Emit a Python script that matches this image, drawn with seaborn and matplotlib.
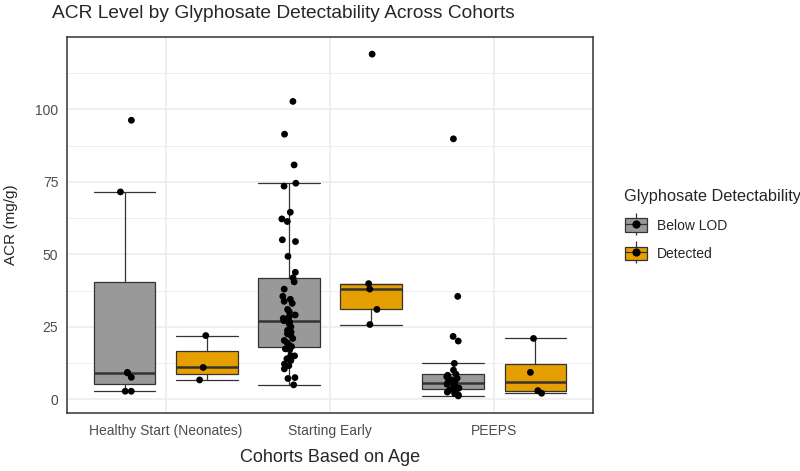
import numpy as np
import pandas as pd
import matplotlib.pyplot as plt
import seaborn as sns
from matplotlib.patches import Patch
from matplotlib.lines import Line2D
from matplotlib.legend_handler import HandlerTuple
from matplotlib.ticker import FixedLocator, MultipleLocator

# Data
cohorts = ['Healthy Start (Neonates)', 'Starting Early', 'PEEPS']
groups = ['Below LOD', 'Detected']
group_colors = ['#999999', '#E69F00']

hs_below = [2.8, 2.8, 7.6, 9.1, 9.3, 71.5, 96.2]
hs_detected = [6.7, 11.0, 22.0]
se_below = [102.7, 91.4, 80.8, 74.5, 73.5, 64.5, 62.2, 61.3, 55.0, 54.4, 49.3, 43.8,
            41.9, 40.5, 38.0, 35.5, 34.5, 33.8, 33.1, 31.0, 30.2, 29.1, 28.5, 27.9,
            27.1, 26.7, 26.0, 25.0, 23.8, 23.2, 22.6, 22.1, 21.0, 20.3, 19.5, 18.8,
            18.2, 17.4, 17.1, 15.1, 15.0, 14.0, 13.4, 12.2, 11.6, 10.5, 7.5, 7.2, 5.0]
se_detected = [25.8, 31.0, 38.0, 39.9, 119.0]
pe_below = [1.2, 1.5, 2.0, 2.5, 2.9, 3.2, 3.5, 3.9, 4.3, 4.8, 5.2, 5.5, 5.8,
            6.2, 6.7, 7.3, 7.8, 8.3, 8.7, 10.1, 12.4, 20.1, 21.7, 35.5, 89.8]
pe_detected = [2.1, 3.0, 9.3, 21.0]
y_ticks = [0, 25, 50, 75, 100]

rows = []
for cohort, grp, vals in [(cohorts[0], groups[0], hs_below), (cohorts[0], groups[1], hs_detected),
                          (cohorts[1], groups[0], se_below), (cohorts[1], groups[1], se_detected),
                          (cohorts[2], groups[0], pe_below), (cohorts[2], groups[1], pe_detected)]:
    for v in vals:
        rows.append((cohort, grp, v))
df = pd.DataFrame(rows, columns=['cohort', 'detect', 'acr'])

sns.set_style('white')
plt.rcParams['font.family'] = ['Liberation Sans', 'DejaVu Sans']
np.random.seed(4)

fig = plt.figure(figsize=(8, 4.71), dpi=100)
ax = fig.add_axes([67 / 800, 1 - 413 / 471, 526 / 800, 376 / 471])

edge = '#333333'
sns.boxplot(df, x='cohort', y='acr', hue='detect', order=cohorts, hue_order=groups,
            palette=group_colors, width=1.0, gap=0.25, showfliers=False,
            linecolor=edge, linewidth=0.9, medianprops=dict(linewidth=1.8),
            capwidths=0.375, saturation=1, legend=False, ax=ax)
sns.stripplot(df, x='cohort', y='acr', hue='detect', order=cohorts, hue_order=groups,
              palette=['black', 'black'], dodge=True, jitter=0.07, size=4.9,
              legend=False, ax=ax)

# spread the dodged points to match the box centres (+-0.25)
for coll in ax.collections:
    offs = coll.get_offsets()
    if len(offs) == 0:
        continue
    centre = np.round(offs[:, 0])
    offs[:, 0] = centre + (offs[:, 0] - centre) * 1.25
    coll.set_offsets(offs)

ax.set_xlim(-0.6, 2.6)
ax.set_ylim(-4.7, 124.9)
ax.yaxis.set_major_locator(FixedLocator(y_ticks))
ax.yaxis.set_minor_locator(MultipleLocator(12.5))
ax.set_axisbelow(True)
ax.grid(which='major', color='#EBEBEB', linewidth=1.1)
ax.grid(which='minor', axis='y', color='#EBEBEB', linewidth=0.6)
for s in ax.spines.values():
    s.set_color(edge)
    s.set_linewidth(1.1)
    s.set_visible(True)
ax.tick_params(axis='both', which='major', length=2.8, width=0.9, color=edge,
               labelcolor='#4D4D4D', labelsize=10, pad=3.5)
ax.tick_params(axis='y', which='minor', length=0)
ax.tick_params(axis='x', pad=5)

ax.set_xlabel('Cohorts Based on Age', fontsize=13, labelpad=8)
ax.set_ylabel('ACR (mg/g)', fontsize=11, labelpad=12)
fig.text(52 / 800, 1 - 13 / 471, 'ACR Level by Glyphosate Detectability Across Cohorts',
         fontsize=13.8, ha='left', va='center')

handles = []
for c in group_colors:
    handles.append((Line2D([], [], linestyle='none', marker='|', markersize=16,
                           markeredgewidth=0.9, color=edge),
                    Patch(facecolor=c, edgecolor=edge, linewidth=0.9),
                    Line2D([], [], color=edge, linewidth=0.9, marker='o',
                           markerfacecolor='black', markeredgecolor='black', markersize=4.9)))
leg = fig.legend(handles, groups, handler_map={tuple: HandlerTuple(ndivide=1, pad=0)},
                 title='Glyphosate Detectability', loc='upper left',
                 bbox_to_anchor=(612 / 800, 1 - 177 / 471), frameon=False,
                 fontsize=10, title_fontsize=11.8, handlelength=1.6, handleheight=1.1,
                 labelspacing=1.0, handletextpad=0.75, alignment='left')

fig.savefig('out.png', dpi=100)
